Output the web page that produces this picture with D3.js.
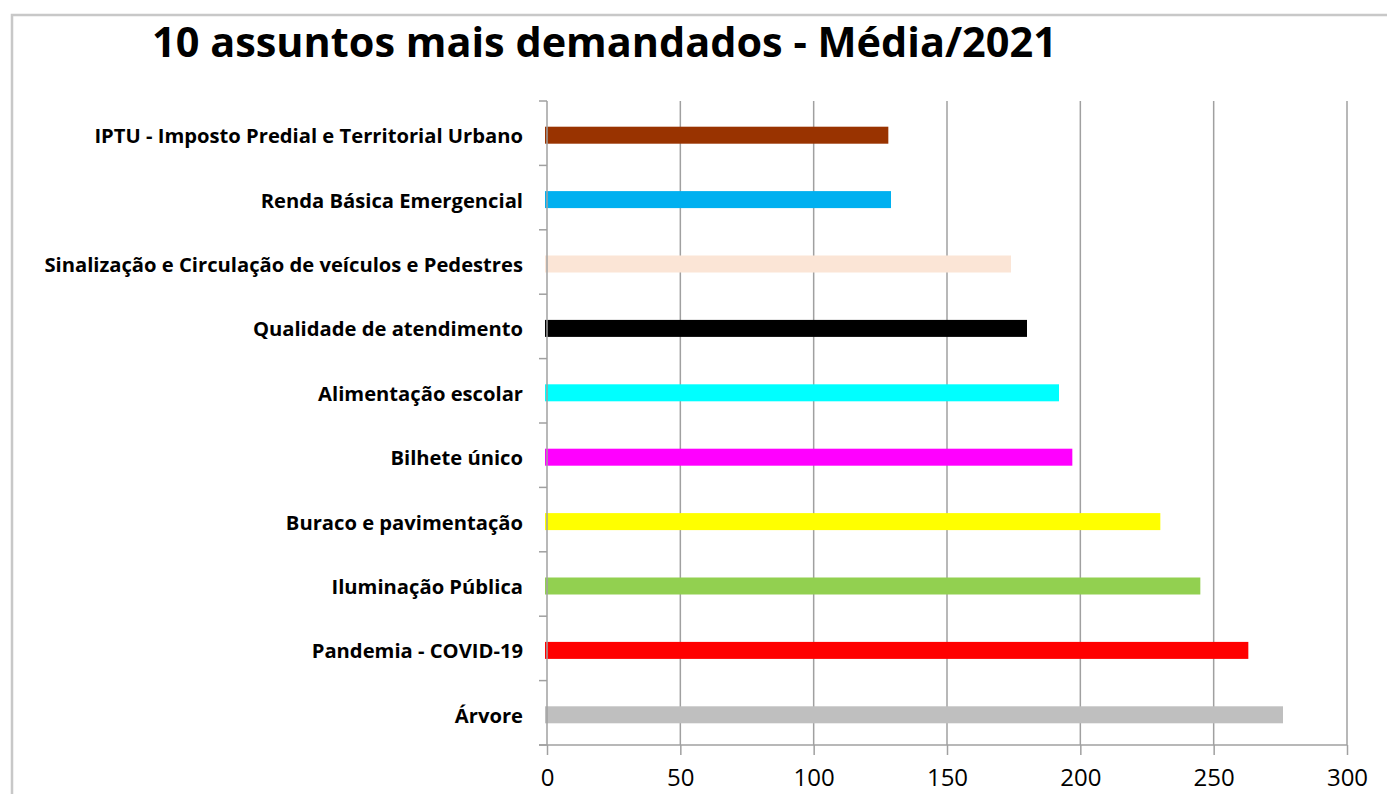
<!DOCTYPE html>
<html>
<head>
<meta charset="utf-8">
<script src="https://cdn.jsdelivr.net/npm/d3@7"></script>
<style>
  html, body { margin: 0; padding: 0; background: #fff; }
  svg { display: block; }
</style>
</head>
<body>
<svg id="chart" width="1387" height="794"></svg>
<script>
const categories = [
  "IPTU - Imposto Predial e Territorial Urbano",
  "Renda Básica Emergencial",
  "Sinalização e Circulação de veículos e Pedestres",
  "Qualidade de atendimento",
  "Alimentação escolar",
  "Bilhete único",
  "Buraco e pavimentação",
  "Iluminação Pública",
  "Pandemia - COVID-19",
  "Árvore"
];
const values = [128, 129, 174, 180, 192, 197, 230, 245, 263, 276];
const colors = ["#993300", "#00B0F0", "#FBE5D6", "#000000", "#00FFFF",
                "#FF00FF", "#FFFF00", "#92D050", "#FF0000", "#BFBFBF"];
const xTicks = [0, 50, 100, 150, 200, 250, 300];
const title = "10 assuntos mais demandados - Média/2021";

const svg = d3.select("#chart");
const margin = { left: 547, right: 40, top: 101, bottom: 49 };
const W = 1387, H = 794;
const plotW = 800, plotH = 644;

// frame
svg.append("path")
  .attr("d", `M12,${H + 5} L12,15 L${W + 5},15`)
  .attr("fill", "none").attr("stroke", "#c8c8c8").attr("stroke-width", 2.5);

const x = d3.scaleLinear().domain([0, 300]).range([margin.left, margin.left + plotW]);
const y = d3.scaleBand().domain(categories).range([margin.top, margin.top + plotH]);

// gridlines
svg.append("g").selectAll("line").data(xTicks.slice(1)).join("line")
  .attr("x1", d => x(d)).attr("x2", d => x(d))
  .attr("y1", margin.top).attr("y2", margin.top + plotH)
  .attr("stroke", "#a0a0a0").attr("stroke-width", 1.5);

// bars
const barH = 17;
svg.append("g").selectAll("rect").data(categories).join("rect")
  .attr("x", x(0) - 2)
  .attr("y", d => y(d) + y.bandwidth() / 2 - barH / 2 + 2)
  .attr("width", (d, i) => x(values[i]) - x(0) + 2)
  .attr("height", barH)
  .attr("fill", (d, i) => colors[i]);

// left axis (category ticks)
const yAxisG = svg.append("g").attr("transform", `translate(${x(0)},0)`);
yAxisG.append("line").attr("x1", 0).attr("x2", 0)
  .attr("y1", margin.top).attr("y2", margin.top + plotH)
  .attr("stroke", "#a0a0a0").attr("stroke-width", 1.5);
const bounds = categories.map(c => y(c)).concat([margin.top + plotH]);
yAxisG.selectAll("line.tk").data(bounds).join("line").attr("class", "tk")
  .attr("x1", -8).attr("x2", 0).attr("y1", d => d).attr("y2", d => d)
  .attr("stroke", "#a0a0a0").attr("stroke-width", 1.5);

// category labels
const labelG = svg.append("g");
labelG.selectAll("text").data(categories).join("text")
  .attr("x", 523)
  .attr("y", d => y(d) + y.bandwidth() / 2 + 2)
  .attr("text-anchor", "end")
  .attr("dominant-baseline", "central")
  .attr("font-family", "'Open Sans', sans-serif")
  .attr("font-weight", "bold")
  .attr("font-size", 15)
  .attr("fill", "#000")
  .text(d => d);
{
  const n = labelG.selectAll("text").nodes()[2];
  const w = n.getComputedTextLength();
  const fs = 15 * 479 / w;
  labelG.selectAll("text").attr("font-size", fs);
}

// bottom axis
const xAxis = d3.axisBottom(x).tickValues(xTicks).tickSize(10).tickSizeOuter(0).tickPadding(14);
const xg = svg.append("g").attr("transform", `translate(0,${margin.top + plotH})`).call(xAxis);
xg.select(".domain").attr("stroke", "#a0a0a0").attr("stroke-width", 1.5)
  .attr("d", `M${x(0) - 8},0H${x(300)}`);
xg.selectAll(".tick line").attr("stroke", "#a0a0a0").attr("stroke-width", 1.5);
xg.selectAll(".tick text")
  .attr("font-family", "'Open Sans', sans-serif")
  .attr("font-size", 24).attr("fill", "#000");

// title
const t = svg.append("text")
  .attr("x", 152).attr("y", 57)
  .attr("font-family", "'Open Sans', sans-serif")
  .attr("font-weight", "bold")
  .attr("font-size", 36)
  .attr("fill", "#000")
  .text(title);
{
  const w = t.node().getComputedTextLength();
  t.attr("font-size", 36 * 905 / w);
}
</script>
</body>
</html>
